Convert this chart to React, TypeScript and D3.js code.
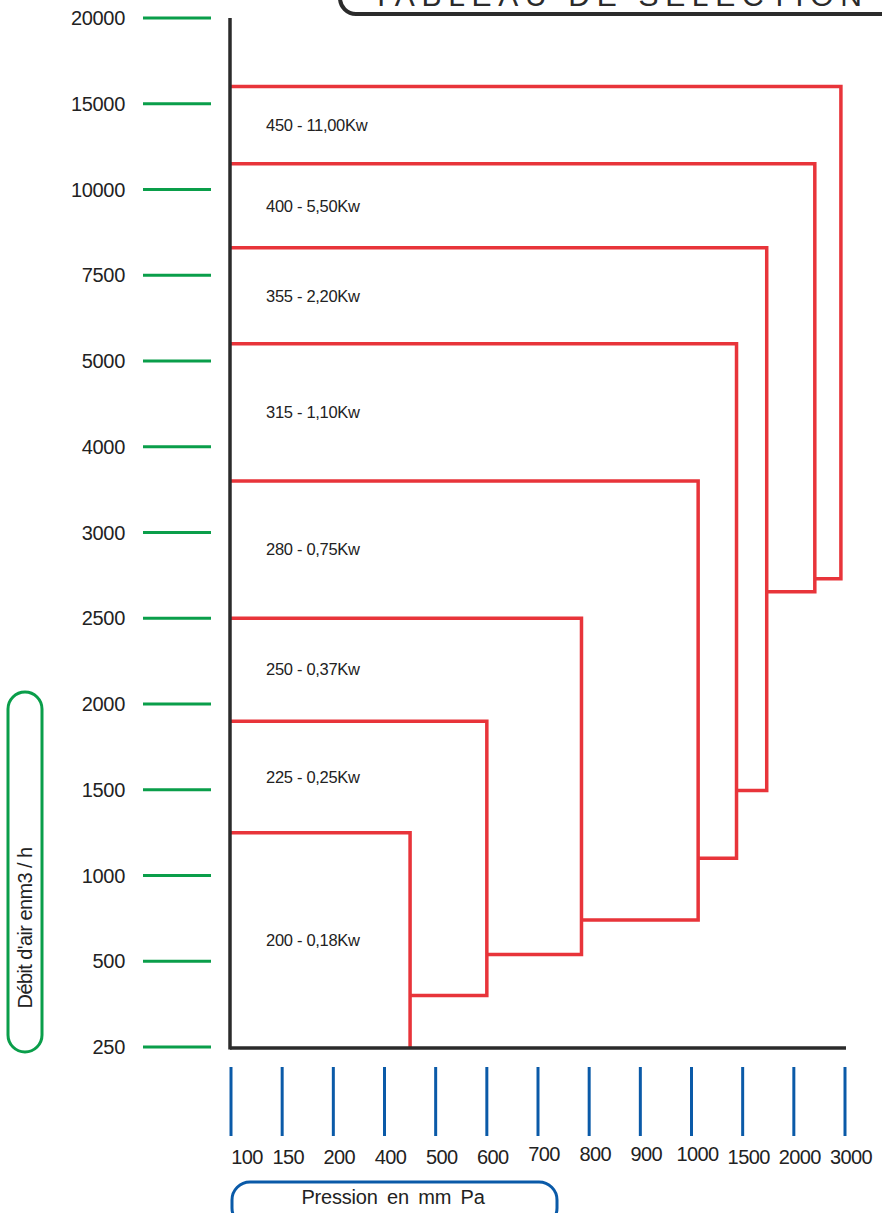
import React from "react";
import * as d3 from "d3";

const flowTicks = [250, 500, 1000, 1500, 2000, 2500, 3000, 4000, 5000, 7500, 10000, 15000, 20000];
const pressureTicks = [100, 150, 200, 400, 500, 600, 700, 800, 900, 1000, 1500, 2000, 3000];

const fanLabels = ["200 - 0,18Kw", "225 - 0,25Kw", "250 - 0,37Kw", "280 - 0,75Kw", "315 - 1,10Kw", "355 - 2,20Kw", "400 - 5,50Kw", "450 - 11,00Kw"];
const fanMaxFlow = [1250, 1900, 2500, 3600, 5500, 8300, 11500, 16000];
const fanMinFlow = [250, 400, 540, 740, 1100, 1495, 2655, 2730];
const fanMaxPressure = [450, 600, 785, 1065, 1440, 1735, 2410, 2920];

const title = "TABLEAU DE SÉLECTION";
const yTitle = "Débit d'air enm3 / h";
const xTitle = "Pression en mm Pa";

const FONT = "'Liberation Sans', Arial, sans-serif";

export default function App() {
  const W = 882, H = 1213;
  const yPoint = d3.scalePoint<number>().domain(flowTicks).range([1047, 18]);
  const xPoint = d3.scalePoint<number>().domain(pressureTicks).range([231, 845]);
  const y = d3.scaleLinear().domain(flowTicks).range(flowTicks.map((v) => yPoint(v) as number));
  const x = d3.scaleLinear().domain(pressureTicks).range(pressureTicks.map((v) => xPoint(v) as number));

  const axisX = 230;
  const axisY = 1048;

  const paths = fanLabels.map((_, i) => {
    const p = d3.path();
    const top = y(fanMaxFlow[i]);
    const right = x(fanMaxPressure[i]);
    const bottom = i === 0 ? axisY : y(fanMinFlow[i]);
    p.moveTo(axisX, top);
    p.lineTo(right, top);
    p.lineTo(right, bottom);
    if (i > 0) p.lineTo(x(fanMaxPressure[i - 1]), bottom);
    return p.toString();
  });

  const labelY = fanLabels.map((_, i) => {
    const top = y(fanMaxFlow[i]);
    const below = i === 0 ? axisY : y(fanMaxFlow[i - 1]);
    return (top + below) / 2;
  });

  return (
    <svg width={W} height={H} style={{ position: "absolute", left: 0, top: 0, background: "#fff" }} fontFamily={FONT}>
      {/* title box */}
      <rect x={340} y={-40} width={600} height={54} rx={16} ry={16} fill="#fff" stroke="#2b2b2b" strokeWidth={4} />
      <text x={372} y={6} fontSize={30} fill="#2b2b2b" textLength={490} lengthAdjust="spacing">{title}</text>

      {/* y ticks */}
      {flowTicks.map((v) => (
        <g key={v}>
          <line x1={143} x2={211} y1={yPoint(v)} y2={yPoint(v)} stroke="#0a9e4a" strokeWidth={3} />
          <text x={125} y={(yPoint(v) as number) + 7} fontSize={20} textAnchor="end" fill="#222" letterSpacing={-0.3}>{v}</text>
        </g>
      ))}

      {/* x ticks */}
      {pressureTicks.map((v, i) => (
        <g key={v}>
          <line x1={xPoint(v)} x2={xPoint(v)} y1={1067} y2={1136} stroke="#0a5aa8" strokeWidth={3} />
          <text x={(xPoint(v) as number) + (i === 0 ? 16 : 6)} y={i >= 6 && i <= 9 ? 1161 : 1164} fontSize={20} textAnchor="middle" fill="#222" letterSpacing={-0.6}>{v}</text>
        </g>
      ))}

      {/* fan zones */}
      {paths.map((d, i) => (
        <path key={i} d={d} fill="none" stroke="#e8343a" strokeWidth={3.5} strokeLinejoin="miter" />
      ))}
      {fanLabels.map((t, i) => (
        <text key={t} x={266} y={labelY[i]} dy="0.35em" fontSize={16.5} fill="#222" letterSpacing={-0.3}>{t}</text>
      ))}

      {/* axes */}
      <line x1={axisX} x2={axisX} y1={18} y2={axisY + 1.5} stroke="#2b2b2b" strokeWidth={3.5} />
      <line x1={axisX} x2={846} y1={axisY} y2={axisY} stroke="#2b2b2b" strokeWidth={3.5} />

      {/* y title */}
      <rect x={8} y={692} width={34} height={360} rx={17} ry={17} fill="none" stroke="#0a9e4a" strokeWidth={3} />
      <text transform="translate(32,928) rotate(-90)" fontSize={20} textAnchor="middle" fill="#222" letterSpacing={-0.6}>{yTitle}</text>

      {/* x title */}
      <rect x={232} y={1182} width={325} height={44} rx={18} ry={18} fill="none" stroke="#0a5aa8" strokeWidth={3} />
      <text x={393} y={1204} fontSize={20} textAnchor="middle" fill="#222" wordSpacing={4} letterSpacing={-0.2}>{xTitle}</text>
    </svg>
  );
}
